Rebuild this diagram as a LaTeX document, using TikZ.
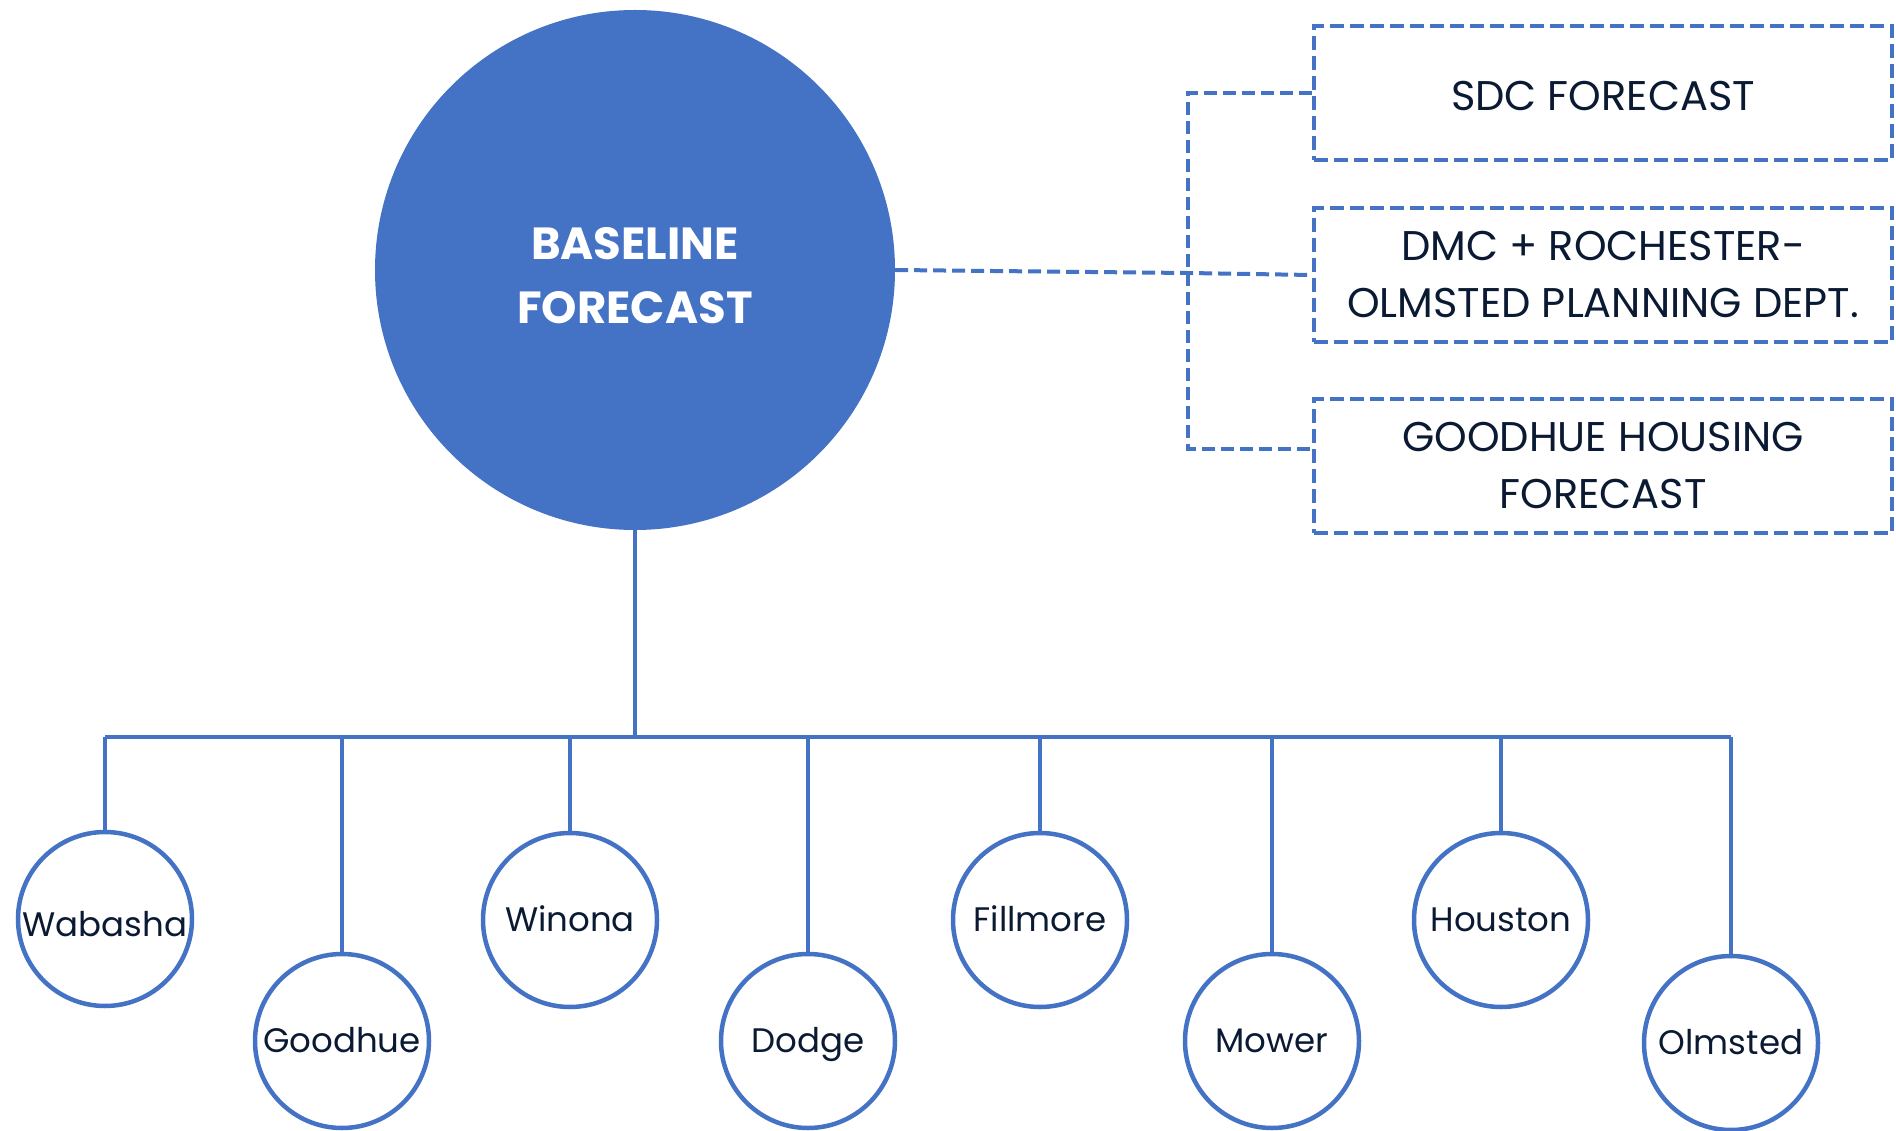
\documentclass[tikz,border=0pt]{standalone}
\usepackage{fontspec}
\setmainfont{Poppins}
\definecolor{blu}{HTML}{4472C4}
\definecolor{ink}{HTML}{0B1A33}
\newcommand\mvtxt[2]{\raisebox{#1}[\height][\depth]{\begin{tabular}{@{}c@{}}#2\end{tabular}}}
\begin{document}
\begin{tikzpicture}[x=1pt,y=-1pt,
  county/.style={circle, draw=blu, line width=4.5pt, minimum size=174pt, inner sep=0pt, font=\fontsize{34}{40}\selectfont, text=ink},
  src/.style={draw=blu, line width=4pt, dash pattern=on 14pt off 6pt, minimum width=578pt, minimum height=134pt, inner sep=0pt, font=\fontsize{41.5}{57}\selectfont, text=ink},
  link/.style={draw=blu, line width=3.5pt},
  dlink/.style={draw=blu, line width=4pt, dash pattern=on 13pt off 6pt}]
\useasboundingbox (0,0) rectangle (1896,1131);
\node[circle, fill=blu, minimum size=520pt, inner sep=0pt, text=white, font=\bfseries\fontsize{45}{64}\selectfont] (base) at (635,270) {\mvtxt{-9pt}{BASELINE\\FORECAST}};
\node[src] (b1) at (1603,93) {\mvtxt{-6pt}{SDC FORECAST}};
\node[src] (b2) at (1603,275) {\mvtxt{-3pt}{DMC + ROCHESTER-\\OLMSTED PLANNING DEPT.}};
\node[src] (b3) at (1603,466) {\mvtxt{-3pt}{GOODHUE HOUSING\\FORECAST}};
\coordinate (bb) at (1188,449);
\coordinate (bm) at (1188,273);
\draw[dlink] (b1.west) -| (bb) -- (b3.west |- bb);
\draw[dlink] (base.east) -- (bm) -- (b2.west);
\node[county] (wab) at (105,919) {\mvtxt{-9pt}{Wabasha}};
\node[county] (goo) at (342,1041) {\mvtxt{-3pt}{Goodhue}};
\node[county] (win) at (570,920) {\mvtxt{-3pt}{Winona}};
\node[county] (dod) at (808,1041) {\mvtxt{-3pt}{Dodge}};
\node[county] (fil) at (1040,920) {\mvtxt{-3pt}{Fillmore}};
\node[county] (mow) at (1272,1041) {\mvtxt{-3pt}{Mower}};
\node[county] (hou) at (1501,920) {\mvtxt{-3pt}{Houston}};
\node[county] (olm) at (1731,1043) {\mvtxt{-3pt}{Olmsted}};
\coordinate (busL) at (105,737);
\coordinate (busR) at (1731,737);
\draw[link] (base.south) -- (base.south |- busL);
\draw[link] (busL) -- (busR);
\foreach \c in {wab,goo,win,dod,fil,mow,hou,olm}
  \draw[link] (\c.north |- busL) -- (\c.north);
\end{tikzpicture}
\end{document}
